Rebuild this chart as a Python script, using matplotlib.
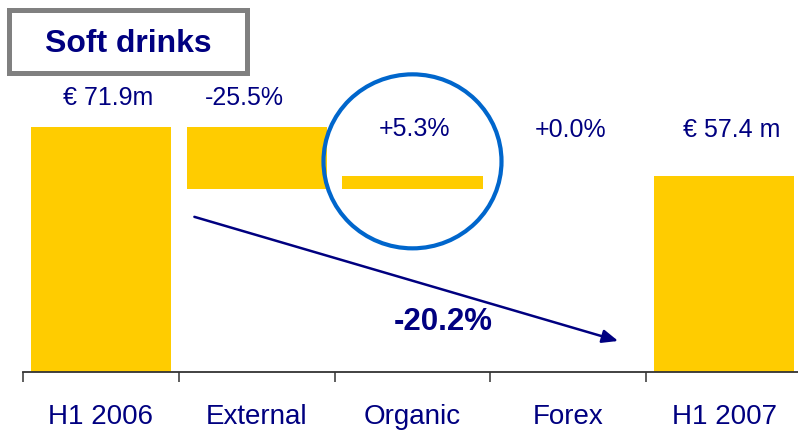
import matplotlib
matplotlib.use("Agg")
import matplotlib.pyplot as plt
from matplotlib.patches import Rectangle, Ellipse

# Waterfall figures (EUR m and % change)
categories = ["H1 2006", "External", "Organic", "Forex", "H1 2007"]
start_value = 71.9
end_value = 57.4
change_pct = [-25.5, 5.3, 0.0]          # External, Organic, Forex
total_change_pct = -20.2
title = "Soft drinks"

BAR = "#FFCC00"
NAVY = "#000080"
RING = "#0066CC"
FONT = "Liberation Sans"

W, H, DPI = 798, 431, 100
fig = plt.figure(figsize=(W / DPI, H / DPI), dpi=DPI)

px_per_cat = 155.8
x0_px, base_px = 23, 373
px_per_unit = 3.41
ax = fig.add_axes([x0_px / W, (H - base_px) / H, (W - x0_px) / W, base_px / H])
ax.set_xlim(-0.5, (W - x0_px) / px_per_cat - 0.5)
ax.set_ylim(0, base_px / px_per_unit)

# Build the floating segments
changes = [start_value * p / 100 for p in change_pct]
bottoms, heights = [0], [start_value]
level = start_value
for c in changes:
    new = level + c
    bottoms.append(min(level, new))
    heights.append(abs(c))
    level = new
bottoms.append(0)
heights.append(end_value)

xs = list(range(len(categories)))
ax.bar(xs, heights, bottom=bottoms, width=0.9, color=BAR, edgecolor="none", zorder=2)

# Value labels above each bar
labels = ["€ %.1fm" % start_value] + ["%+.1f%%" % p for p in change_pct] + ["€ %.1f m" % end_value]
labels[1] = "%.1f%%" % change_pct[0]
tops = [b + h for b, h in zip(bottoms, heights)]
tops[1] = start_value
lab_dx = [7, -12, 2, 2, 8]       # pixel nudges
lab_dy = [30, 30, 48, 47, 47]
for x, t, s, dx, dy in zip(xs, tops, labels, lab_dx, lab_dy):
    ax.annotate(s, (x, t), xytext=(dx * 72 / DPI, dy * 72 / DPI), textcoords="offset points",
                ha="center", va="center", fontsize=18, color=NAVY, family=FONT,
                annotation_clip=False)

# Axis styling
for side in ("top", "right", "left"):
    ax.spines[side].set_visible(False)
ax.spines["bottom"].set_color("#333333")
ax.spines["bottom"].set_linewidth(1.3)
ax.set_yticks([])
ax.set_xticks([x - 0.5 for x in xs])
ax.set_xticklabels([])
ax.tick_params(axis="x", which="major", direction="out", length=7, width=1.1, color="#333333")
ax.set_xticks(xs, minor=True)
ax.set_xticklabels(categories, minor=True, fontsize=20, color=NAVY, family=FONT)
ax.tick_params(axis="x", which="minor", length=0, pad=22)

# Highlight ring around the organic step
ring_px = (178, 174)
ax.add_patch(Ellipse((2.0, tops[2] + 4.4), ring_px[0] / px_per_cat, ring_px[1] / px_per_unit,
                     facecolor="none", edgecolor=RING, linewidth=3.0, zorder=3, clip_on=False))

# Overall trend arrow with total change
ax.annotate("", xy=(3.32, 9.1), xytext=(0.60, 45.5),
            arrowprops=dict(arrowstyle="-|>,head_length=0.95,head_width=0.4",
                            color=NAVY, lw=1.8, shrinkA=0, shrinkB=0), zorder=4)
ax.text(2.2, 14.9, "%.1f%%" % total_change_pct, ha="center", va="center", fontsize=22.5,
        fontweight="bold", color=NAVY, family=FONT)

# Title box
fig.patches.append(Rectangle((8.5, H - 73.5), 238, 63, transform=None, facecolor="white",
                             edgecolor="#808080", linewidth=3.6, figure=fig))
fig.text(128 / W, 1 - 44 / H, title, ha="center", va="center", fontsize=23,
         fontweight="bold", color=NAVY, family=FONT)

fig.savefig("out.png", dpi=DPI)
